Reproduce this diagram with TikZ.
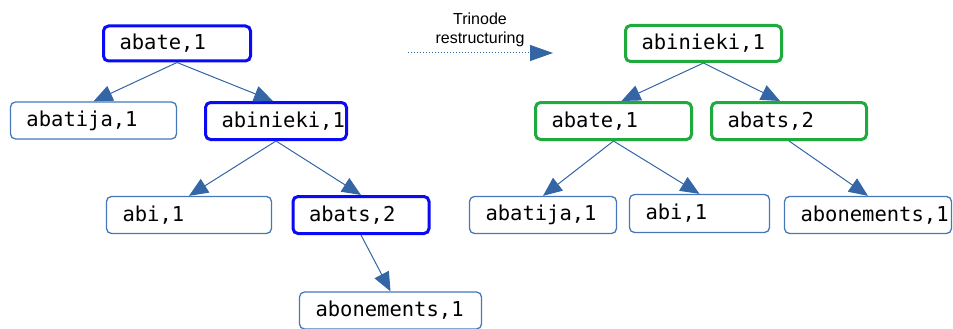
\documentclass[tikz,border=0pt]{standalone}
\usepackage{fontspec}
\setmainfont{Liberation Sans}
\newfontfamily\codefont{DejaVu Sans Mono}
\usetikzlibrary{arrows.meta}
\definecolor{edgeblue}{RGB}{52,101,164}
\definecolor{thinblue}{RGB}{70,120,185}
\definecolor{hiblue}{RGB}{10,10,245}
\definecolor{higreen}{RGB}{30,170,60}
\tikzset{
  nbox/.style 2 args={rectangle, rounded corners=5pt, inner xsep=16pt, inner ysep=0pt,
    text width=#1-32pt, minimum height=#2, align=left,
    font=\codefont\fontsize{20.5}{22}\selectfont, fill=white},
  thinbox/.style={draw=thinblue, line width=1.3pt},
  bluebox/.style={draw=hiblue, line width=3pt},
  greenbox/.style={draw=higreen, line width=3pt},
  edge/.style={draw=edgeblue, line width=1pt, -{Triangle[length=19pt,width=16pt]}},
}
\begin{document}
\begin{tikzpicture}[x=1pt,y=-1pt]
\useasboundingbox (0,0) rectangle (953,329);
% left tree
\node[nbox={147pt}{35pt}, bluebox] (la) at (177,43.5) {\mbox{abate,1}};
\node[nbox={166pt}{37pt}, thinbox] (lj) at (93.5,120.5) {\mbox{abatija,1}};
\node[nbox={141pt}{37pt}, bluebox] (ln) at (276,121) {\mbox{abinieki,1}};
\node[nbox={165pt}{37pt}, thinbox] (li) at (189,215) {\mbox{abi,1}};
\node[nbox={136pt}{37pt}, bluebox] (ls) at (361,215) {\mbox{abats,2}};
\node[nbox={182pt}{37pt}, thinbox] (lo) at (390.5,310.5) {\mbox{abonements,1}};
\draw[edge] (la.south) -- (lj.north);
\draw[edge] (la.south) -- ([xshift=-3pt]ln.north);
\draw[edge] (ln.south) -- (li.north);
\draw[edge] (ln.south) -- (ls.north);
\draw[edge] (ls.south) -- (lo.north);
% transformation arrow
\coordinate (ts) at (408,53);
\coordinate (te) at (553,53);
\draw[draw=edgeblue, line width=1pt, dotted, -{Triangle[length=23pt,width=16pt]}] (ts) -- (te);
\node[align=center, font=\fontsize{16}{19}\selectfont, inner sep=0pt] (tl) at (480,30) {Trinode\\restructuring};
% right tree
\node[nbox={156pt}{36pt}, greenbox] (rn) at (703.5,43.5) {\mbox{abinieki,1}};
\node[nbox={156pt}{37pt}, greenbox] (ra) at (613.5,121) {\mbox{abate,1}};
\node[nbox={155pt}{37pt}, greenbox] (rs) at (789,121) {\mbox{abats,2}};
\node[nbox={147pt}{37pt}, thinbox] (rj) at (543,215) {\mbox{abatija,1}};
\node[nbox={140pt}{38pt}, thinbox] (ri) at (699.5,213.5) {\mbox{abi,1}};
\node[nbox={167pt}{37pt}, thinbox] (ro) at (868,215) {\mbox{abonements,1}};
\draw[edge] (rn.south) -- ([xshift=8pt]ra.north);
\draw[edge] (rn.south) -- ([xshift=-9pt]rs.north);
\draw[edge] (ra.south) -- (rj.north);
\draw[edge] (ra.south) -- (ri.north);
\draw[edge] (rs.south) -- (ro.north);
\end{tikzpicture}
\end{document}
